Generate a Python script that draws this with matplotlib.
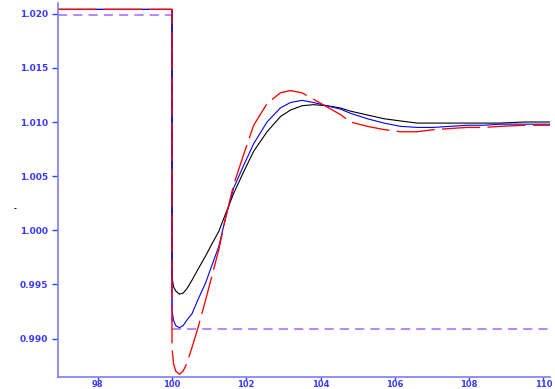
import matplotlib
matplotlib.use("Agg")
import matplotlib.pyplot as plt

# time axis shared by the three responses
t = [96.93, 100.0, 100.0, 100.04, 100.1, 100.2, 100.3, 100.4, 100.54, 100.7,
     100.9, 101.1, 101.26, 101.44, 101.66, 101.93, 102.2, 102.56, 102.92,
     103.19, 103.5, 103.81, 104.17, 104.53, 104.81, 105.26, 105.71, 106.15,
     106.6, 107.05, 107.5, 107.95, 108.4, 108.84, 109.5, 110.18]

resp_black = [1.0204, 1.0204, 0.9957, 0.9948, 0.9944, 0.9941, 0.9942, 0.9946,
              0.9954, 0.9964, 0.9976, 0.9989, 0.9999, 1.0015, 1.0034, 1.0054,
              1.0073, 1.0091, 1.0105, 1.0111, 1.0115, 1.0116, 1.0115, 1.0113,
              1.0110, 1.01065, 1.0103, 1.0101, 1.0099, 1.0099, 1.0099, 1.0099,
              1.0099, 1.0099, 1.0100, 1.0100]

resp_blue = [1.0204, 1.0204, 0.9926, 0.9917, 0.9912, 0.9910, 0.9912, 0.9917,
             0.9923, 0.9936, 0.9951, 0.9970, 0.9985, 1.0011, 1.0039, 1.0060,
             1.0080, 1.0100, 1.0113, 1.0118, 1.0120, 1.0118, 1.0115, 1.0112,
             1.0108, 1.0103, 1.0099, 1.0096, 1.0095, 1.0095, 1.0096, 1.0097,
             1.0097, 1.0098, 1.0098, 1.0098]

resp_red = [1.0204, 1.0204, 0.9892, 0.9877, 0.9870, 0.9867, 0.9870, 0.9877,
            0.9892, 0.9910, 0.9935, 0.9961, 0.9982, 1.0011, 1.0042, 1.0070,
            1.0097, 1.0117, 1.0127, 1.0129, 1.0127, 1.0121, 1.0114, 1.0107,
            1.0100, 1.0096, 1.0093, 1.0091, 1.0091, 1.0093, 1.0094, 1.0095,
            1.0095, 1.0096, 1.0097, 1.0097]

# reference step
t_ref = [96.93, 100.0, 100.0, 110.18]
v_ref = [1.0199, 1.0199, 0.9909, 0.9909]

xticks = [98, 100, 102, 104, 106, 108, 110]
yticks = [0.990, 0.995, 1.000, 1.005, 1.010, 1.015, 1.020]

axis_col = "#7d7dff"
label_col = "#3a3aff"

fig = plt.figure(figsize=(5.55, 3.89), dpi=100)
ax = fig.add_axes([58 / 555, 1 - 377 / 389, (550 - 58) / 555, (377 - 3) / 389])

ax.plot(t_ref, v_ref, color="#a366ff", lw=1.1, dashes=(6, 4))
ax.plot(t, resp_black, color="black", lw=0.8)
ax.plot(t, resp_blue, color="#0000ff", lw=0.8)
ax.plot(t, resp_red, color="#ff0000", lw=0.95, dashes=(29, 5.5))

ax.set_xlim(96.93, 110.18)
ax.set_ylim(0.98645, 1.02099)
ax.set_xticks(xticks)
ax.set_xticklabels([str(v) for v in xticks])
ax.set_yticks(yticks)
ax.set_yticklabels([f"{v:.3f}" for v in yticks])

for side in ("top", "right"):
    ax.spines[side].set_visible(False)
for side in ("left", "bottom"):
    ax.spines[side].set_color(axis_col)
    ax.spines[side].set_linewidth(1.2)

ax.tick_params(axis="y", direction="out", length=4, width=1.0, color=label_col,
               pad=3, labelsize=6.5, labelcolor=label_col)
ax.tick_params(axis="x", direction="out", length=2, width=1.0, color=label_col,
               pad=0.5, labelsize=6.0, labelcolor=label_col)
for lab in ax.get_xticklabels() + ax.get_yticklabels():
    lab.set_fontweight("bold")

fig.text(15 / 555, 1 - 209 / 389, "-", fontsize=5, fontweight="bold",
         color="black", ha="center", va="center")

fig.savefig("out.png", dpi=100)
